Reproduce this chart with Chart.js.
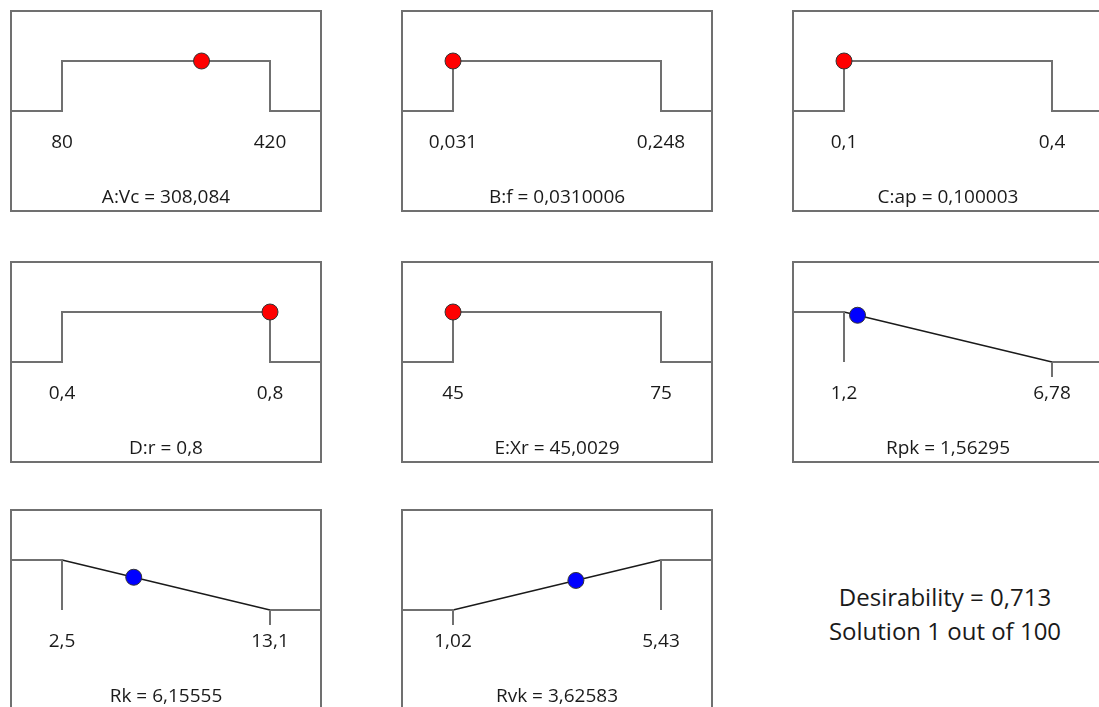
<!DOCTYPE html>
<html>
<head>
<meta charset="utf-8">
<script src="https://cdn.jsdelivr.net/npm/chart.js@4.4.0/dist/chart.umd.min.js"></script>
<style>
body{margin:0;background:#fff;width:1099px;height:707px;overflow:hidden;position:relative;font-family:"Open Sans",sans-serif;color:#1a1a1a}
canvas.panel{position:absolute}
#summary{position:absolute;left:790px;width:310px;top:580px;text-align:center;font-size:24px;line-height:34px}
</style>
</head>
<body>
<div id="summary">Desirability = 0,713<br>Solution 1 out of 100</div>
<script>
// ramp plot data
var names = ["A:Vc", "B:f", "C:ap", "D:r", "E:Xr", "Rpk", "Rk", "Rvk"];
var lows = [80, 0.031, 0.1, 0.4, 45, 1.2, 2.5, 1.02];
var highs = [420, 0.248, 0.4, 0.8, 75, 6.78, 13.1, 5.43];
var lowLabels = ["80", "0,031", "0,1", "0,4", "45", "1,2", "2,5", "1,02"];
var highLabels = ["420", "0,248", "0,4", "0,8", "75", "6,78", "13,1", "5,43"];
var solution = [308.084, 0.0310006, 0.100003, 0.8, 45.0029, 1.56295, 6.15555, 3.62583];
var solutionLabels = ["308,084", "0,0310006", "0,100003", "0,8", "45,0029", "1,56295", "6,15555", "3,62583"];
var desirability = [1, 1, 1, 1, 1, 0.935, 0.655, 0.591];
var goals = ["range", "range", "range", "range", "range", "minimize", "minimize", "maximize"];

var panelLeft = [10, 401, 792];
var panelTop = [10, 261, 509];
var W = 312, H = 202;
var grey = '#707070';

var rampText = {
  id: 'rampText',
  afterDatasetsDraw: function(chart, args, opts) {
    var ctx = chart.ctx, x = chart.scales.x, y = chart.scales.y;
    ctx.save();
    ctx.strokeStyle = grey;
    ctx.lineWidth = 2;
    ctx.strokeRect(1, 1, chart.width - 2, chart.height - 2);
    ctx.fillStyle = '#1a1a1a';
    ctx.font = '19px "Open Sans"';
    ctx.textAlign = 'center';
    ctx.textBaseline = 'middle';
    ctx.fillText(opts.lowText, x.getPixelForValue(opts.low), y.getPixelForValue(-0.64));
    ctx.fillText(opts.highText, x.getPixelForValue(opts.high), y.getPixelForValue(-0.64));
    ctx.fillText(opts.caption, chart.width / 2, y.getPixelForValue(-1.73));
    ctx.restore();
  }
};

function seg(data, color, width) {
  return {data: data, borderColor: color, borderWidth: width, pointRadius: 0, fill: false, tension: 0, spanGaps: false};
}

names.forEach(function(name, i) {
  var lo = lows[i], hi = highs[i], pad = (hi - lo) * 0.25;
  var xmin = lo - pad, xmax = hi + pad;
  var sets = [];
  if (goals[i] == "range") {
    sets.push(seg([{x: xmin, y: 0}, {x: lo, y: 0}, {x: lo, y: 1}, {x: hi, y: 1}, {x: hi, y: 0}, {x: xmax, y: 0}], grey, 2));
  } else if (goals[i] == "minimize") {
    sets.push(seg([{x: xmin, y: 1}, {x: lo, y: 1}, {x: lo, y: 0}, {x: lo, y: null}, {x: hi, y: 0}, {x: xmax, y: 0}, {x: xmax, y: null}, {x: hi, y: 0}, {x: hi, y: -0.3}], grey, 2));
    sets.push(seg([{x: lo, y: 1}, {x: hi, y: 0}], '#1a1a1a', 1.4));
  } else {
    sets.push(seg([{x: xmin, y: 0}, {x: lo, y: 0}, {x: lo, y: -0.3}, {x: lo, y: null}, {x: hi, y: 1}, {x: xmax, y: 1}, {x: xmax, y: null}, {x: hi, y: 1}, {x: hi, y: 0}], grey, 2));
    sets.push(seg([{x: lo, y: 0}, {x: hi, y: 1}], '#1a1a1a', 1.4));
  }
  sets.unshift({
    data: [{x: solution[i], y: desirability[i]}],
    pointRadius: 8,
    pointBackgroundColor: i < 5 ? '#ff0000' : '#0000ff',
    pointBorderColor: '#333',
    pointBorderWidth: 1,
    showLine: false
  });

  var c = document.createElement('canvas');
  c.className = 'panel';
  c.width = W; c.height = H;
  c.style.left = panelLeft[i % 3] + 'px';
  c.style.top = panelTop[Math.floor(i / 3)] + 'px';
  document.body.appendChild(c);

  new Chart(c.getContext('2d'), {
    type: 'line',
    data: {datasets: sets},
    options: {
      responsive: false,
      animation: false,
      layout: {padding: 0, autoPadding: false},
      scales: {
        x: {type: 'linear', display: false, min: xmin, max: xmax},
        y: {type: 'linear', display: false, min: -2.02, max: 2.02}
      },
      plugins: {
        legend: {display: false},
        tooltip: {enabled: false},
        rampText: {low: lo, high: hi, lowText: lowLabels[i], highText: highLabels[i], caption: name + " = " + solutionLabels[i]}
      }
    },
    plugins: [rampText]
  });
});
</script>
</body>
</html>
